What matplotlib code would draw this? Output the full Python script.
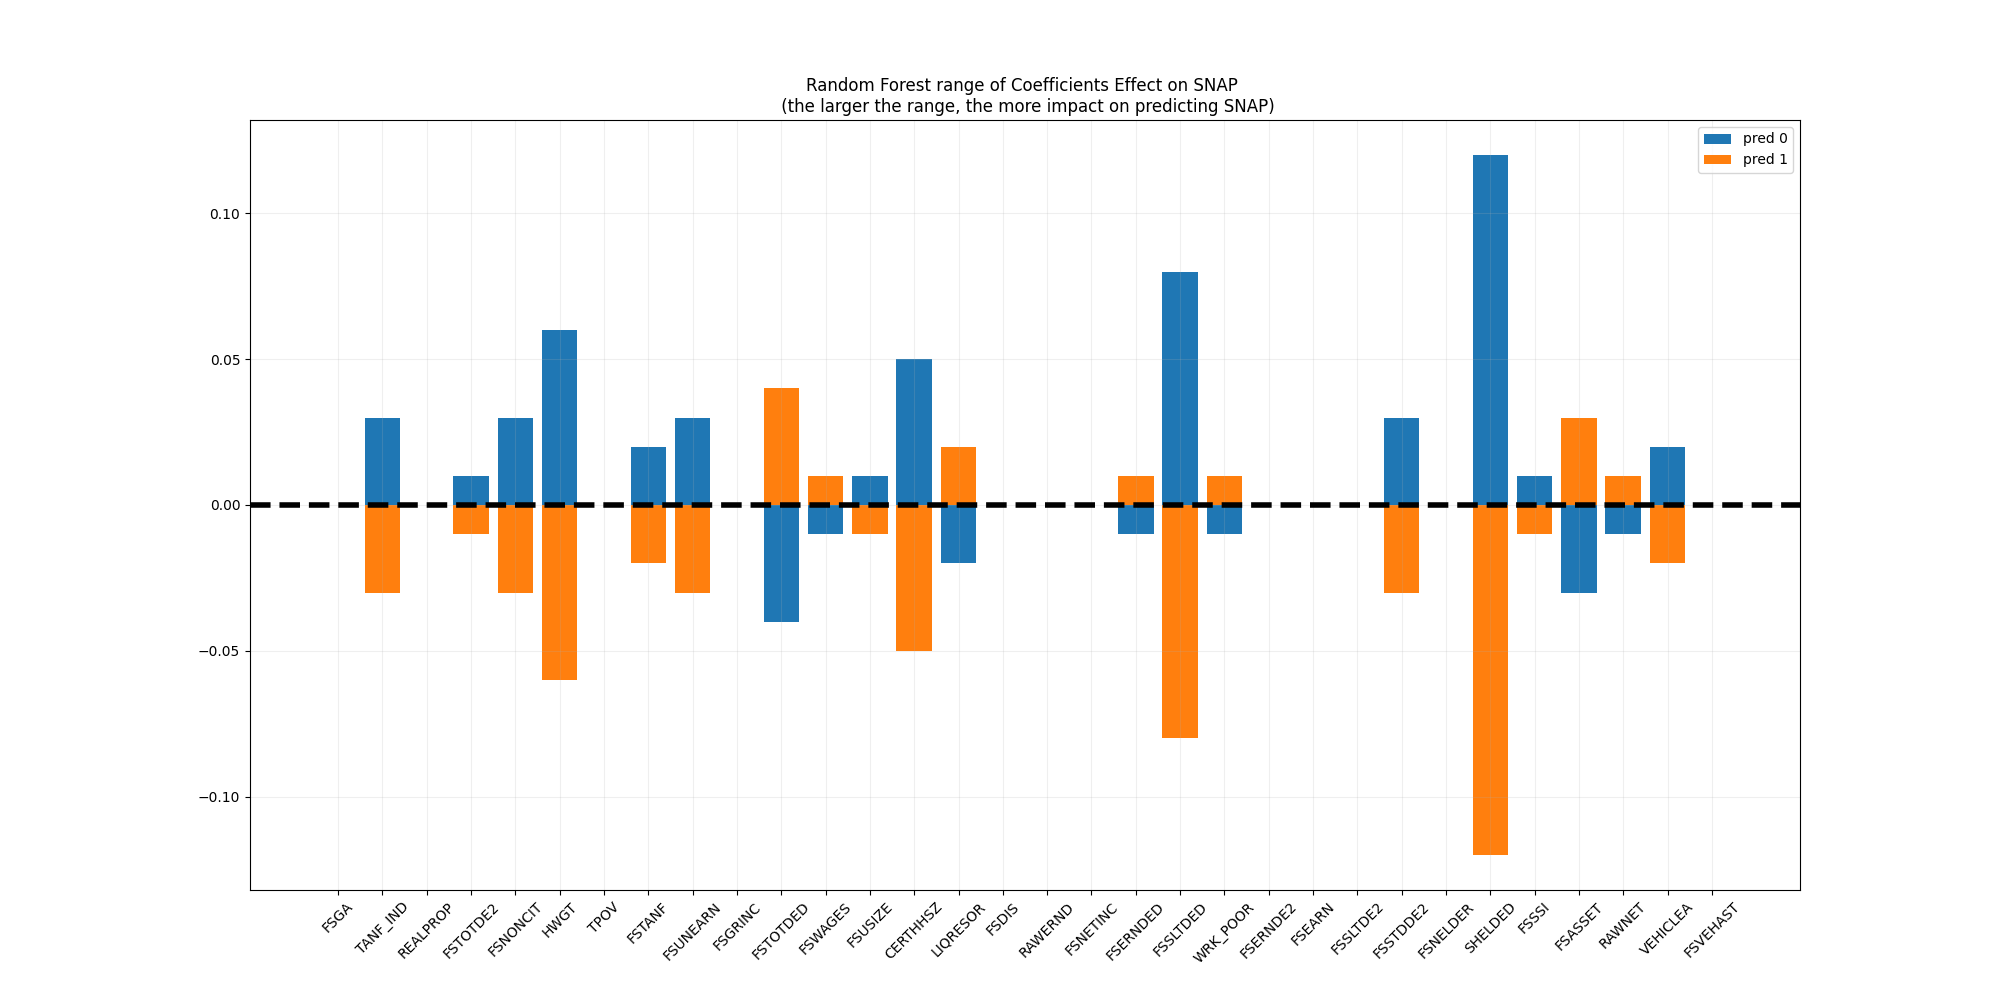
import numpy as np
import matplotlib
matplotlib.use('Agg')
import matplotlib.pyplot as plt

features = ['FSGA', 'TANF_IND', 'REALPROP', 'FSTOTDE2', 'FSNONCIT', 'HWGT', 'TPOV',
            'FSTANF', 'FSUNEARN', 'FSGRINC', 'FSTOTDED', 'FSWAGES', 'FSUSIZE',
            'CERTHHSZ', 'LIQRESOR', 'FSDIS', 'RAWERND', 'FSNETINC', 'FSERNDED',
            'FSSLTDED', 'WRK_POOR', 'FSERNDE2', 'FSEARN', 'FSSLTDE2', 'FSSTDDE2',
            'FSNELDER', 'SHELDED', 'FSSSI', 'FSASSET', 'RAWNET', 'VEHICLEA', 'FSVEHAST']

pred0 = [0.0, 0.03, 0.0, 0.01, 0.03, 0.06, 0.0,
         0.02, 0.03, 0.0, -0.04, -0.01, 0.01,
         0.05, -0.02, 0.0, 0.0, 0.0, -0.01,
         0.08, -0.01, 0.0, 0.0, 0.0, 0.03,
         0.0, 0.12, 0.01, -0.03, -0.01, 0.02, 0.0]

pred1 = [0.0, -0.03, 0.0, -0.01, -0.03, -0.06, 0.0,
         -0.02, -0.03, 0.0, 0.04, 0.01, -0.01,
         -0.05, 0.02, 0.0, 0.0, 0.0, 0.01,
         -0.08, 0.01, 0.0, 0.0, 0.0, -0.03,
         0.0, -0.12, -0.01, 0.03, 0.01, -0.02, 0.0]

if __name__ == '__main__':
    fig, ax = plt.subplots(figsize=(20, 10), dpi=100)
    x = np.arange(len(features))

    ax.bar(x, pred0, label='pred 0')
    ax.bar(x, pred1, label='pred 1')
    ax.axhline(0, color='k', linestyle='--', linewidth=4)

    ax.set_xticks(x)
    ax.set_xticklabels(features, rotation=45)
    ax.grid(alpha=0.2)
    ax.legend(loc='upper right')
    ax.set_title('Random Forest range of Coefficients Effect on SNAP \n'
                 ' (the larger the range, the more impact on predicting SNAP)')

    fig.savefig('out.png')
